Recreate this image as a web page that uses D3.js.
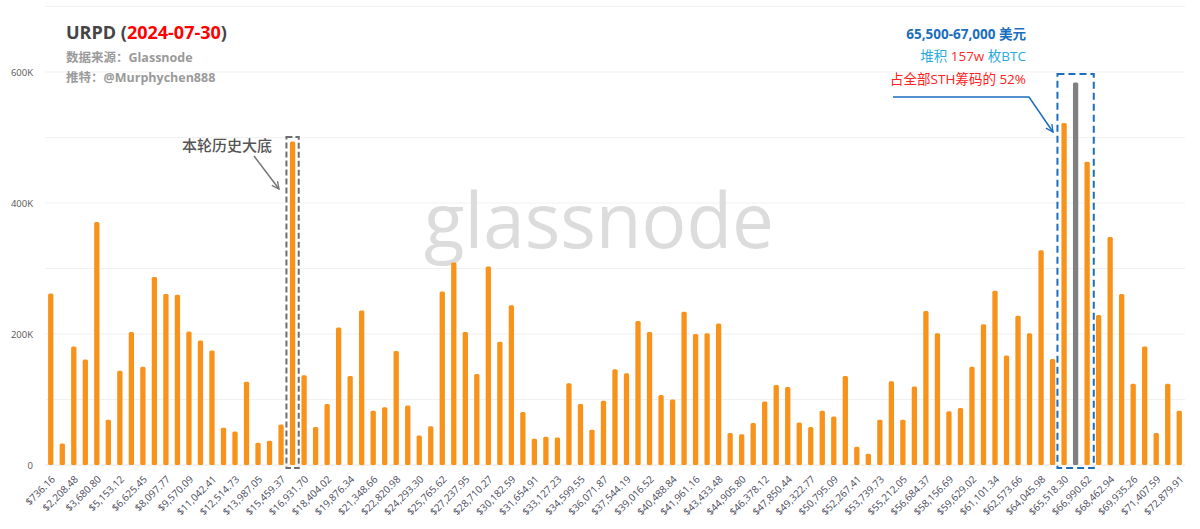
<!DOCTYPE html>
<html>
<head>
<meta charset="utf-8">
<script src="https://cdn.jsdelivr.net/npm/d3@7"></script>
<style>
  html, body { margin: 0; padding: 0; background: #fff; }
  svg { display: block; }
  text { font-family: "Open Sans", "Noto Sans CJK SC", sans-serif; }
</style>
</head>
<body>
<svg id="chart" width="1200" height="529"></svg>
<script>
// ---- data ----
const tickLabels = ["$736.16","$2,208.48","$3,680.80","$5,153.12","$6,625.45","$8,097.77","$9,570.09","$11,042.41","$12,514.73","$13,987.05","$15,459.37","$16,931.70","$18,404.02","$19,876.34","$21,348.66","$22,820.98","$24,293.30","$25,765.62","$27,237.95","$28,710.27","$30,182.59","$31,654.91","$33,127.23","$34,599.55","$36,071.87","$37,544.19","$39,016.52","$40,488.84","$41,961.16","$43,433.48","$44,905.80","$46,378.12","$47,850.44","$49,322.77","$50,795.09","$52,267.41","$53,739.73","$55,212.05","$56,684.37","$58,156.69","$59,629.02","$61,101.34","$62,573.66","$64,045.98","$65,518.30","$66,990.62","$68,462.94","$69,935.26","$71,407.59","$72,879.91"];
const supply = [262000,33000,181000,161000,371000,69000,144000,203000,150000,287000,
  261000,260000,204000,190000,175000,57000,51000,127000,34000,37000,
  62000,494000,137000,58000,93000,210000,136000,236000,83000,88000,
  174000,91000,45000,59000,265000,309000,203000,139000,303000,188000,
  244000,81000,40000,43000,42000,125000,93000,54000,98000,146000,
  140000,220000,203000,107000,100000,234000,200000,201000,216000,49000,
  47000,64000,97000,122000,119000,65000,58000,83000,74000,136000,
  28000,17000,69000,128000,69000,120000,235000,201000,82000,87000,
  150000,215000,266000,167000,228000,201000,328000,162000,522000,584000,
  463000,229000,348000,261000,124000,181000,49000,124000,83000];
const highlightIndex = 89;   // 65,500-67,000 bin
const bottomIndex = 21;      // cycle bottom bin
const yTicks = [0, 200000, 400000, 600000];
const yGrid = [0,100000,200000,300000,400000,500000,600000,700000];

// ---- layout ----
const svg = d3.select("#chart");
const x = d3.scaleBand().domain(d3.range(supply.length)).range([45, 1185]).paddingInner(0.54).paddingOuter(0.27);
const y = d3.scaleLinear().domain([0, 700000]).range([465, 6.5]);

// grid
svg.append("g").selectAll("line").data(yGrid).join("line")
  .attr("x1", 45).attr("x2", 1185)
  .attr("y1", d => y(d)).attr("y2", d => y(d))
  .attr("stroke", d => d === 0 ? "#e4e4e4" : "#f1f1f1").attr("stroke-width", 1);

// y axis labels
const yAxis = d3.axisLeft(y).tickValues(yTicks).tickSize(0).tickPadding(0)
  .tickFormat(d => d === 0 ? "0" : (d / 1000) + "K");
svg.append("g").attr("transform", "translate(33,0)").call(yAxis)
  .call(g => g.select(".domain").remove())
  .call(g => g.selectAll("text").attr("fill", "#555").attr("font-size", "9.5px")
    .attr("font-family", "'Open Sans', sans-serif"));

// watermark
svg.append("text").attr("x", 424).attr("y", 248)
  .attr("font-size", "76px").attr("fill", "#dcdcdc")
  .attr("textLength", 350).attr("lengthAdjust", "spacingAndGlyphs")
  .attr("font-family", "Lato, 'Open Sans', sans-serif")
  .text("glassnode");

// bars
svg.append("g").selectAll("rect").data(supply).join("rect")
  .attr("x", (d, i) => x(i))
  .attr("y", d => y(d))
  .attr("width", x.bandwidth())
  .attr("height", d => y(0) - y(d))
  .attr("rx", 1.5)
  .attr("fill", (d, i) => i === highlightIndex ? "#808080" : "#F7931A");

// x axis labels
const xAxis = d3.axisBottom(x)
  .tickValues(d3.range(0, supply.length, 2))
  .tickSize(0).tickPadding(0)
  .tickFormat(i => tickLabels[i / 2]);
svg.append("g").attr("transform", "translate(0,465)").call(xAxis)
  .call(g => g.select(".domain").remove())
  .call(g => g.selectAll("text")
    .attr("fill", "#4a4a5a").attr("font-size", "10px")
    .attr("text-anchor", "end")
    .attr("dy", 0)
    .attr("transform", "translate(5,15) rotate(-45)"));

// title
const title = svg.append("text").attr("x", 66).attr("y", 39)
  .attr("font-size", "18px").attr("font-weight", "bold").attr("fill", "#444");
title.append("tspan").text("URPD (");
title.append("tspan").attr("fill", "#ff0000").text("2024-07-30");
title.append("tspan").text(")");
svg.append("text").attr("x", 66).attr("y", 62).attr("font-size", "12.5px").attr("font-weight", "bold")
  .attr("fill", "#9a9a9a").text("数据来源：Glassnode");
svg.append("text").attr("x", 66).attr("y", 82).attr("font-size", "12.5px").attr("font-weight", "bold")
  .attr("fill", "#9a9a9a").text("推特：@Murphychen888");

// markers
const defs = svg.append("defs");
defs.append("marker").attr("id", "arrBlue").attr("viewBox", "0 0 10 10").attr("refX", 9).attr("refY", 5)
  .attr("markerWidth", 9).attr("markerHeight", 9).attr("orient", "auto").attr("markerUnits", "userSpaceOnUse")
  .append("path").attr("d", "M1,1 L9,5 L1,9").attr("fill", "none").attr("stroke", "#1a6ebd").attr("stroke-width", 1.5);
defs.append("marker").attr("id", "arrGray").attr("viewBox", "0 0 10 10").attr("refX", 9).attr("refY", 5)
  .attr("markerWidth", 9).attr("markerHeight", 9).attr("orient", "auto").attr("markerUnits", "userSpaceOnUse")
  .append("path").attr("d", "M1,1 L9,5 L1,9").attr("fill", "none").attr("stroke", "#777").attr("stroke-width", 1.5);

// bottom annotation (gray)
const bx = x(bottomIndex);
svg.append("rect").attr("x", bx - 3.5).attr("y", 137).attr("width", x.bandwidth() + 7).attr("height", 331)
  .attr("fill", "none").attr("stroke", "#6e6e6e").attr("stroke-width", 2).attr("stroke-dasharray", "6,3");
svg.append("text").attr("x", 272).attr("y", 150.5).attr("text-anchor", "end")
  .attr("font-size", "15px").attr("font-weight", "500").attr("fill", "#555").attr("font-family", "'Noto Sans CJK SC', sans-serif")
  .text("本轮历史大底");
svg.append("line").attr("x1", 254).attr("y1", 156).attr("x2", 279).attr("y2", 189)
  .attr("stroke", "#777").attr("stroke-width", 1.5).attr("marker-end", "url(#arrGray)");

// highlight annotation (blue)
const hx0 = x(highlightIndex - 1), hx1 = x(highlightIndex + 1) + x.bandwidth();
svg.append("rect").attr("x", hx0 - 4).attr("y", 74).attr("width", hx1 - hx0 + 8).attr("height", 394)
  .attr("fill", "none").attr("stroke", "#1a6ebd").attr("stroke-width", 2).attr("stroke-dasharray", "7,4");
svg.append("path").attr("d", "M893,97 L1029,97 L1053,132")
  .attr("fill", "none").attr("stroke", "#1a6ebd").attr("stroke-width", 1.5).attr("marker-end", "url(#arrBlue)");

svg.append("text").attr("x", 1026).attr("y", 39).attr("text-anchor", "end")
  .attr("font-size", "13.5px").attr("font-weight", "bold").attr("fill", "#1a6ebd").text("65,500-67,000 美元");
const l2 = svg.append("text").attr("x", 1026).attr("y", 61).attr("text-anchor", "end")
  .attr("font-size", "13.5px").attr("fill", "#29abe2");
l2.append("tspan").text("堆积 ");
l2.append("tspan").attr("fill", "#ff2a2a").text("157w");
l2.append("tspan").text(" 枚BTC");
svg.append("text").attr("x", 1026).attr("y", 84).attr("text-anchor", "end")
  .attr("font-size", "13.5px").attr("fill", "#ff2020").text("占全部STH筹码的 52%");
</script>
</body>
</html>
